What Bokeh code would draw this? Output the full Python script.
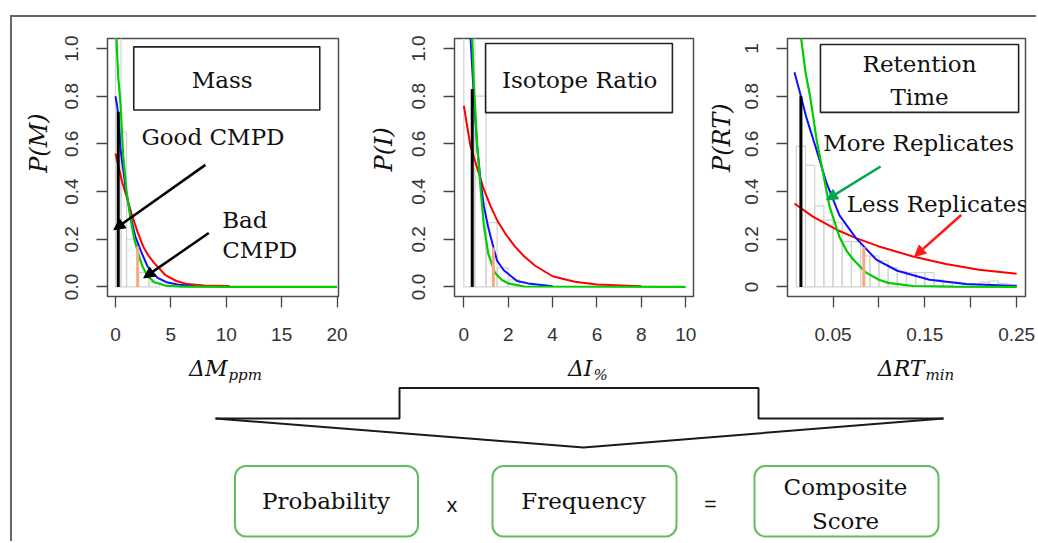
from bokeh.plotting import figure
from bokeh.layouts import row, column
from bokeh.models import Label, BoxAnnotation, Arrow, NormalHead, FixedTicker, Range1d
from bokeh.embed import file_html
from bokeh.resources import INLINE

# ---------------- values ----------------
# Panel 1: Mass  (x = delta mass, ppm)
mass_hist_edges = [0, 0.5, 1, 2, 3, 4]
mass_hist_heights = [1.2, 0.65, 0.2, 0.06, 0.02]
mass_red_x = [0, 0.3, 0.6, 1.0, 1.5, 2.0, 2.5, 3.0, 3.5, 4.5, 5.5, 6.5, 8.0, 10.3]
mass_red_y = [0.56, 0.50, 0.44, 0.38, 0.30, 0.23, 0.17, 0.13, 0.10, 0.05, 0.025, 0.012, 0.006, 0.004]
mass_blue_x = [0, 0.15, 0.3, 0.45, 0.9, 1.35, 1.8, 2.3, 2.9, 3.8, 4.6, 5.6, 7.2]
mass_blue_y = [0.80, 0.76, 0.70, 0.58, 0.42, 0.30, 0.21, 0.15, 0.085, 0.038, 0.02, 0.01, 0.003]
mass_green_x = [0, 0.1, 0.25, 0.45, 0.7, 1.0, 1.35, 1.7, 2.0, 2.4, 2.9, 3.5, 4.5, 6, 10, 20]
mass_green_y = [1.15, 1.03, 0.88, 0.77, 0.55, 0.40, 0.29, 0.2, 0.15, 0.09, 0.045, 0.02, 0.006, 0.001, 0, 0]
mass_good = [0.25, 0.735]   # x, P  of the good compound
mass_bad = [2.0, 0.17]      # x, P  of the bad compound
mass_xticks = [0, 5, 10, 15, 20]

# Panel 2: Isotope ratio (x = delta I, %)
iso_hist_edges = [0, 0.5, 1.0, 1.5, 2.0, 2.5]
iso_hist_heights = [1.2, 0.8, 0.27, 0.08, 0.03]
iso_red_x = [0, 0.3, 0.6, 0.9, 1.2, 1.5, 1.9, 2.3, 2.7, 3.2, 4.0, 5.0, 6.0, 8.0]
iso_red_y = [0.76, 0.59, 0.50, 0.41, 0.34, 0.28, 0.22, 0.17, 0.13, 0.09, 0.045, 0.022, 0.01, 0.003]
iso_blue_x = [0.27, 0.3, 0.45, 0.6, 0.75, 0.9, 1.1, 1.35, 1.5, 1.8, 2.4, 2.9, 4.0]
iso_blue_y = [1.10, 1.05, 0.80, 0.59, 0.45, 0.34, 0.25, 0.16, 0.11, 0.07, 0.025, 0.015, 0.003]
iso_green_x = [0.36, 0.38, 0.45, 0.6, 0.75, 0.9, 1.1, 1.4, 1.7, 2.0, 2.7, 10]
iso_green_y = [1.10, 1.05, 0.85, 0.60, 0.42, 0.26, 0.14, 0.06, 0.03, 0.015, 0.002, 0.0]
iso_good = [0.38, 0.83]
iso_bad = [1.33, 0.165]
iso_xticks = [0, 2, 4, 6, 8, 10]

# Panel 3: Retention time (x = delta RT, min)
rt_hist_edges = [0.01, 0.02, 0.03, 0.04, 0.05, 0.06, 0.07, 0.08, 0.09, 0.10, 0.11, 0.12, 0.13,
                 0.14, 0.15, 0.16, 0.17, 0.18, 0.19, 0.20, 0.21, 0.22, 0.23, 0.24, 0.25]
rt_hist_heights = [0.59, 0.51, 0.34, 0.28, 0.27, 0.19, 0.19, 0.13, 0.13, 0.11, 0.08, 0.065,
                   0.06, 0.06, 0.06, 0.03, 0.02, 0.02, 0.01, 0.01, 0.02, 0.025, 0.015, 0.01]
rt_red_x = [0.008, 0.028, 0.054, 0.075, 0.1, 0.137, 0.173, 0.209, 0.25]
rt_red_y = [0.35, 0.295, 0.24, 0.205, 0.17, 0.128, 0.096, 0.072, 0.055]
rt_blue_x = [0.008, 0.015, 0.021, 0.032, 0.043, 0.057, 0.075, 0.097, 0.12, 0.155, 0.195, 0.25]
rt_blue_y = [0.90, 0.80, 0.71, 0.575, 0.435, 0.30, 0.205, 0.115, 0.068, 0.03, 0.012, 0.004]
rt_green_x = [0.014, 0.015, 0.02, 0.025, 0.032, 0.039, 0.046, 0.057, 0.065, 0.072, 0.086, 0.1,
              0.11, 0.137, 0.18, 0.25]
rt_green_y = [1.10, 1.05, 0.90, 0.80, 0.62, 0.48, 0.34, 0.21, 0.15, 0.115, 0.06, 0.03,
              0.017, 0.004, 0.001, 0.0]
rt_good = [0.015, 0.80]
rt_bad = [0.0835, 0.167]
rt_xticks = [0.05, 0.10, 0.15, 0.20, 0.25]
rt_xtick_labels = ["0.05", "", "0.15", "", "0.25"]

p_ticks = [0, 0.2, 0.4, 0.6, 0.8, 1.0]
p_tick_labels = ["0.0", "0.2", "0.4", "0.6", "0.8", "1.0"]
rt_p_tick_labels = ["0", "0.2", "0.4", "0.6", "0.8", "1"]

# ---------------- styling / layout ----------------
RED, BLUE, GREEN = "#ff0000", "#1010ff", "#00cc00"
ORANGE = "#f7aa80"
HIST = "#d2d2d2"
SERIF = "DejaVu Serif"
SANS = "Liberation Sans"
TXT = "23px"
COL_X, COL_Y = 12, 17    # page position of the layout content
TOP_H = 333              # panels: page y 17 .. 350
BT, BB = 21, 54
YR = (-0.04, 1.042)


def blank(width, height):
    f = figure(width=width, height=height, x_range=Range1d(0, width), y_range=Range1d(0, height),
               x_axis_type=None, y_axis_type=None, min_border=0,
               toolbar_location=None, output_backend="svg")
    f.grid.visible = False
    f.outline_line_color = None
    return f


def panel(width, bl, br, xr):
    p = figure(width=width, height=TOP_H, x_range=Range1d(*xr), y_range=Range1d(*YR),
               min_border_left=bl, min_border_right=br, min_border_top=BT, min_border_bottom=BB,
               toolbar_location=None, output_backend="svg")
    p.grid.visible = False
    p.outline_line_color = "#4d4d4d"
    p.outline_line_width = 1.5
    for ax in (p.xaxis[0], p.yaxis[0]):
        ax.axis_line_color = None
        ax.major_tick_in = 0
        ax.major_tick_out = 11
        ax.major_tick_line_color = "#444444"
        ax.major_tick_line_width = 1.3
        ax.minor_tick_line_color = None
        ax.major_label_text_font = SANS
        ax.major_label_text_font_size = "19px"
        ax.major_label_text_color = "#333333"
    p.yaxis[0].major_label_orientation = "vertical"
    p.yaxis[0].ticker = FixedTicker(ticks=p_ticks)
    p.yaxis[0].major_label_overrides = dict(zip(p_ticks, p_tick_labels))
    p.xaxis[0].major_label_standoff = 20
    p.yaxis[0].major_label_standoff = 18
    return p


def draw(p, edges, heights, rx, ry, bx, by, gx, gy, good, bad):
    p.quad(left=edges[:-1], right=edges[1:], bottom=0, top=heights,
           fill_color=None, line_color=HIST, line_width=1.2)
    p.line(rx, ry, line_color=RED, line_width=2)
    p.line(bx, by, line_color=BLUE, line_width=2)
    p.line(gx, gy, line_color=GREEN, line_width=2.2)
    p.segment(x0=[good[0]], y0=[0], x1=[good[0]], y1=[good[1]], line_color="black", line_width=3)
    p.segment(x0=[bad[0]], y0=[0], x1=[bad[0]], y1=[bad[1]], line_color=ORANGE, line_width=3)


def lab(p, text, x, y, **kw):
    args = dict(text_font=SERIF, text_font_size=TXT, text_color="#111111",
                text_align="center", text_baseline="middle")
    args.update(kw)
    p.add_layout(Label(x=x, y=y, text=text, **args))


def frame_box(p, l, r, b, t):
    p.add_layout(BoxAnnotation(left=l, right=r, bottom=b, top=t, fill_alpha=0,
                               line_color="#222222", line_width=1.6, line_alpha=1))


def ylabel_strip(x_start, width, text, cX, cY):
    f = blank(width, TOP_H)
    lab(f, text, cX - x_start, TOP_H - (cY - COL_Y), angle=1.5708,
        text_font_style="italic", text_font_size="24px")
    return f


# ---- panel 1  (page x 12..350)
y1 = ylabel_strip(12, 40, "P(M)", 38, 152)
p1 = panel(298, 55, 12, (-0.72, 20.13))
p1.xaxis[0].ticker = FixedTicker(ticks=mass_xticks)
draw(p1, mass_hist_edges, mass_hist_heights, mass_red_x, mass_red_y, mass_blue_x, mass_blue_y,
     mass_green_x, mass_green_y, mass_good, mass_bad)
frame_box(p1, 1.65, 18.44, 0.742, 1.007)
lab(p1, "Mass", 9.63, 0.867)
lab(p1, "Good CMPD", 8.8, 0.63)
lab(p1, "Bad", 9.63, 0.282, text_align="left")
lab(p1, "CMPD", 9.63, 0.156, text_align="left")
for (xs, ys, xe, ye) in [(8.12, 0.512, -0.15, 0.24), (8.42, 0.226, 2.55, 0.038)]:
    p1.add_layout(Arrow(x_start=xs, y_start=ys, x_end=xe, y_end=ye, line_color="black",
                        line_width=2.5,
                        end=NormalHead(size=11, fill_color="black", line_color="black")))

# ---- panel 2  (page x 350..700)
y2 = ylabel_strip(350, 50, "P(I)", 383, 160)
p2 = panel(300, 54, 7, (-0.42, 10.35))
p2.xaxis[0].ticker = FixedTicker(ticks=iso_xticks)
draw(p2, iso_hist_edges, iso_hist_heights, iso_red_x, iso_red_y, iso_blue_x, iso_blue_y,
     iso_green_x, iso_green_y, iso_good, iso_bad)
frame_box(p2, 0.98, 9.4, 0.731, 1.021)
lab(p2, "Isotope Ratio", 5.22, 0.867)

# ---- panel 3  (page x 700..1036)
y3 = ylabel_strip(700, 36, "P(RT)", 721.7, 145)
p3 = panel(300, 51, 11, (0.0004, 0.2596))
p3.xaxis[0].ticker = FixedTicker(ticks=rt_xticks)
p3.xaxis[0].major_label_overrides = dict(zip(rt_xticks, rt_xtick_labels))
p3.yaxis[0].major_label_overrides = dict(zip(p_ticks, rt_p_tick_labels))
draw(p3, rt_hist_edges, rt_hist_heights, rt_red_x, rt_red_y, rt_blue_x, rt_blue_y,
     rt_green_x, rt_green_y, rt_good, rt_bad)
frame_box(p3, 0.0363, 0.2521, 0.732, 1.017)
lab(p3, "Retention", 0.1442, 0.937)
lab(p3, "Time", 0.1442, 0.7975)
lab(p3, "More Replicates", 0.1433, 0.6025)
lab(p3, "Less Replicates", 0.1638, 0.3485)
p3.add_layout(Arrow(x_start=0.1018, y_start=0.505, x_end=0.0428, y_end=0.365,
                    line_color="#00a651", line_width=2.5,
                    end=NormalHead(size=11, fill_color="#00a651", line_color="#00a651")))
p3.add_layout(Arrow(x_start=0.1896, y_start=0.302, x_end=0.1388, y_end=0.128,
                    line_color="#ff1a1a", line_width=2.5,
                    end=NormalHead(size=11, fill_color="#ff1a1a", line_color="#ff1a1a")))

# ---- bottom strip: x-axis titles + combination diagram (local pixel space)
W4 = 1024
TOP4 = COL_Y + TOP_H
H4 = 541 - TOP4
X0, YB = COL_X, 541


def gx_(X):
    return X - X0


def gy_(Y):
    return YB - Y


p4 = blank(W4, H4)

# x-axis titles with subscripts (page x of the main/subscript junction)
for main, sub, jX in [("ΔM", "ppm", 227), ("ΔI", "%", 592), ("ΔRT", "min", 924)]:
    lab(p4, main, gx_(jX), gy_(368), text_align="right", text_baseline="alphabetic",
        text_font_style="italic", text_font_size="22px")
    lab(p4, sub, gx_(jX + 1), gy_(374), text_align="left", text_baseline="alphabetic",
        text_font_style="italic", text_font_size="15px")

step_X = [215, 399, 399, 758, 758, 943]
step_Y = [418, 418, 387.5, 387.5, 418, 418]
vee_X = [215, 583, 943]
vee_Y = [418, 447, 418]
p4.line([gx_(v) for v in step_X], [gy_(v) for v in step_Y], line_color="#1a1a1a", line_width=2)
p4.line([gx_(v) for v in vee_X], [gy_(v) for v in vee_Y], line_color="#1a1a1a", line_width=2)

for (l, r) in [(234.5, 417.5), (492, 676), (754, 938)]:
    p4.add_layout(BoxAnnotation(left=gx_(l), right=gx_(r), top=gy_(465.5), bottom=gy_(536),
                                fill_alpha=0, line_color="#62bd5f", line_width=2,
                                line_alpha=1, border_radius=11))
lab(p4, "Probability", gx_(325.5), gy_(500))
lab(p4, "Frequency", gx_(583), gy_(500))
lab(p4, "Composite", gx_(845), gy_(486))
lab(p4, "Score", gx_(845), gy_(520))
lab(p4, "x", gx_(451.5), gy_(504), text_font=SANS, text_font_size="21px")
lab(p4, "=", gx_(710), gy_(503), text_font=SANS, text_font_size="21px")

layout = column(row(y1, p1, y2, p2, y3, p3), p4, margin=(15, 0, 0, 10),
                styles={"border-top": "2px solid #666666", "border-left": "2px solid #666666"})

open("out.html", "w").write(file_html(layout, INLINE))
